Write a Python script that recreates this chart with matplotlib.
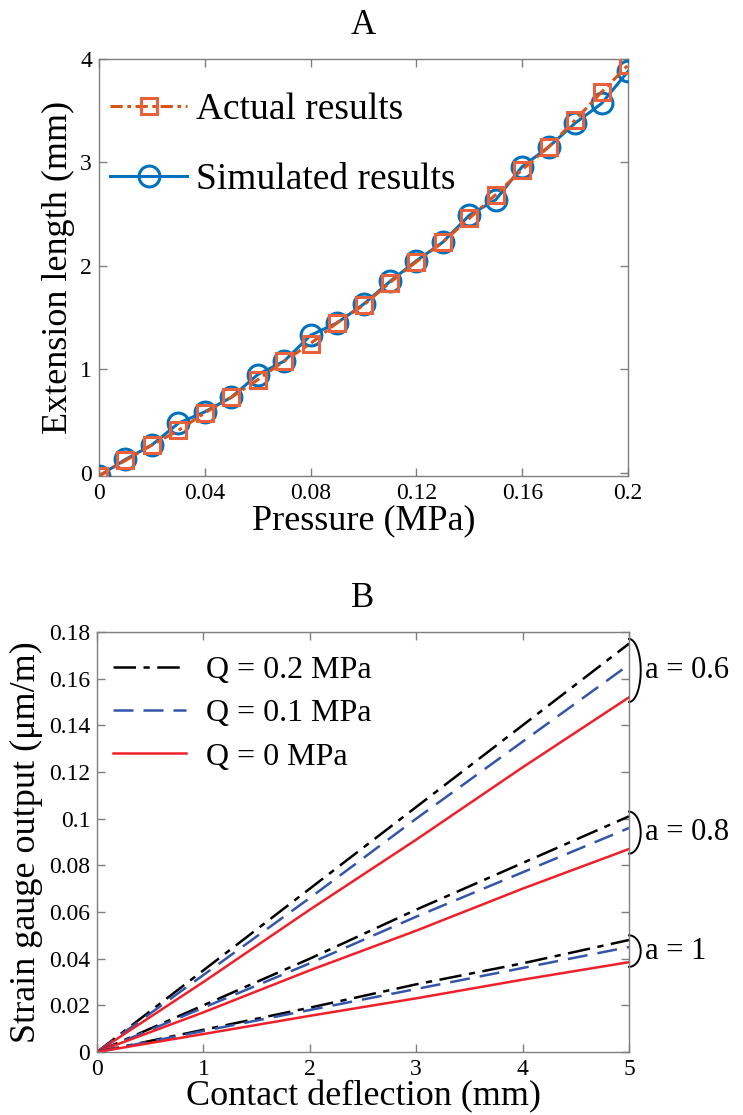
import numpy as np
import matplotlib
matplotlib.use("Agg")
import matplotlib.pyplot as plt

plt.rcParams['font.family'] = ['Liberation Serif', 'DejaVu Serif']
plt.rcParams['mathtext.fontset'] = 'stix'

# --- Panel A data ---
pressure = [0, 0.01, 0.02, 0.03, 0.04, 0.05, 0.06, 0.07, 0.08, 0.09, 0.10,
            0.11, 0.12, 0.13, 0.14, 0.15, 0.16, 0.17, 0.18, 0.19, 0.20]
actual = [-0.03, 0.12, 0.27, 0.41, 0.58, 0.73, 0.90, 1.08, 1.25, 1.45, 1.62,
          1.84, 2.04, 2.23, 2.46, 2.69, 2.93, 3.15, 3.41, 3.68, 3.94]
simulated = [-0.03, 0.13, 0.27, 0.48, 0.59, 0.73, 0.95, 1.08, 1.33, 1.45, 1.63,
             1.85, 2.05, 2.23, 2.49, 2.64, 2.96, 3.15, 3.38, 3.57, 3.88]

# --- Panel B data ---
deflection = [0, 1, 2, 3, 4, 5]
a_values = ['0.6', '0.8', '1']
q02 = {'0.6': [0, 0.035, 0.070, 0.105, 0.140, 0.175],
       '0.8': [0, 0.020, 0.040, 0.061, 0.081, 0.101],
       '1':   [0, 0.0095, 0.019, 0.029, 0.038, 0.048]}
q01 = {'0.6': [0, 0.033, 0.066, 0.100, 0.133, 0.166],
       '0.8': [0, 0.019, 0.038, 0.058, 0.077, 0.096],
       '1':   [0, 0.009, 0.018, 0.027, 0.036, 0.045]}
q00 = {'0.6': [0, 0.030, 0.061, 0.091, 0.122, 0.152],
       '0.8': [0, 0.017, 0.035, 0.052, 0.070, 0.087],
       '1':   [0, 0.0077, 0.0155, 0.023, 0.031, 0.0385]}

ORANGE = '#D95319'
BLUE = '#0072BD'
SPINE = '#7f7f7f'

W, H = 743, 1115
fig = plt.figure(figsize=(W / 100, H / 100), dpi=100)
axA = fig.add_axes([99 / W, 1 - 476 / H, 529 / W, 417 / H])
axB = fig.add_axes([97 / W, 1 - 1052 / H, 532 / W, 420 / H])


def style_axes(ax):
    for s in ax.spines.values():
        s.set_color(SPINE)
        s.set_linewidth(1.0)
    ax.tick_params(direction='in', length=6, width=1.0, color=SPINE,
                   top=True, right=True, labelsize=17, pad=5)


# --- Panel A ---
axA.plot(pressure, simulated, '-', color=BLUE, lw=2.2, marker='o', ms=15,
         mfc='none', mec=BLUE, mew=2.2, label='Simulated results', zorder=3)
axA.plot(pressure, actual, linestyle=(0, (4, 1.5, 1.2, 1.5)), color=ORANGE, lw=2.2,
         marker='s', ms=11, mfc='none', mec='#E8603C', mew=2.2,
         label='Actual results', zorder=4)
axA.set_xlim(0, 0.2)
axA.set_ylim(-0.03, 4)
axA.set_xticks([0, 0.04, 0.08, 0.12, 0.16, 0.2])
axA.set_xticklabels(['0', '0.04', '0.08', '0.12', '0.16', '0.2'])
axA.set_yticks([0, 1, 2, 3, 4])
style_axes(axA)
axA.set_xlabel('Pressure (MPa)', fontsize=26, labelpad=0)
axA.set_ylabel('Extension length (mm)', fontsize=26, labelpad=4)
axA.set_title('A', fontsize=25, pad=18)
h, l = axA.get_legend_handles_labels()
axA.legend(h[::-1], l[::-1], loc='upper left', bbox_to_anchor=(0, 1 - 22 / 417),
           frameon=False, fontsize=27, handlelength=2.05, labelspacing=0.95,
           borderaxespad=0.05, borderpad=0.25, handletextpad=0.25)

# --- Panel B ---
for a in a_values:
    axB.plot(deflection, q02[a], color='black', lw=1.8,
             linestyle=(0, (9, 3, 2.5, 3)),
             label='Q = 0.2 MPa' if a == '0.6' else None)
    axB.plot(deflection, q01[a], color='#3355AA', lw=1.8,
             linestyle=(0, (8, 4)),
             label='Q = 0.1 MPa' if a == '0.6' else None)
    axB.plot(deflection, q00[a], color='#F0202A', lw=1.8, linestyle='-',
             label='Q = 0 MPa' if a == '0.6' else None)

    # brace ")" spanning the three curve ends, with its label
    top = q02[a][-1] + 0.002
    bot = q00[a][-1] - 0.002
    t = np.linspace(0, np.pi, 60)
    bx = deflection[-1] + 0.11 * np.sin(t)
    by = top - (top - bot) * (1 - np.cos(t)) / 2
    axB.plot(bx, by, color='black', lw=1.4, clip_on=False)
    axB.text(deflection[-1] + 0.15, (top + bot) / 2, 'a = ' + a, fontsize=22,
             ha='left', va='center')

axB.set_xlim(0, 5)
axB.set_ylim(0, 0.18)
axB.set_xticks([0, 1, 2, 3, 4, 5])
axB.set_yticks(np.arange(0, 0.181, 0.02))
axB.set_yticklabels(['0', '0.02', '0.04', '0.06', '0.08', '0.1', '0.12',
                     '0.14', '0.16', '0.18'])
style_axes(axB)
axB.set_xlabel('Contact deflection (mm)', fontsize=26, labelpad=0)
axB.set_ylabel('Strain gauge output (μm/m)', fontsize=26, labelpad=4)
axB.set_title('B', fontsize=25, pad=18)
axB.legend(loc='upper left', bbox_to_anchor=(0, 1 - 8 / 420), frameon=False,
           fontsize=23, handlelength=2.3, labelspacing=0.43, borderaxespad=0.1,
           handletextpad=0.6)

fig.savefig('out.png', dpi=100)
